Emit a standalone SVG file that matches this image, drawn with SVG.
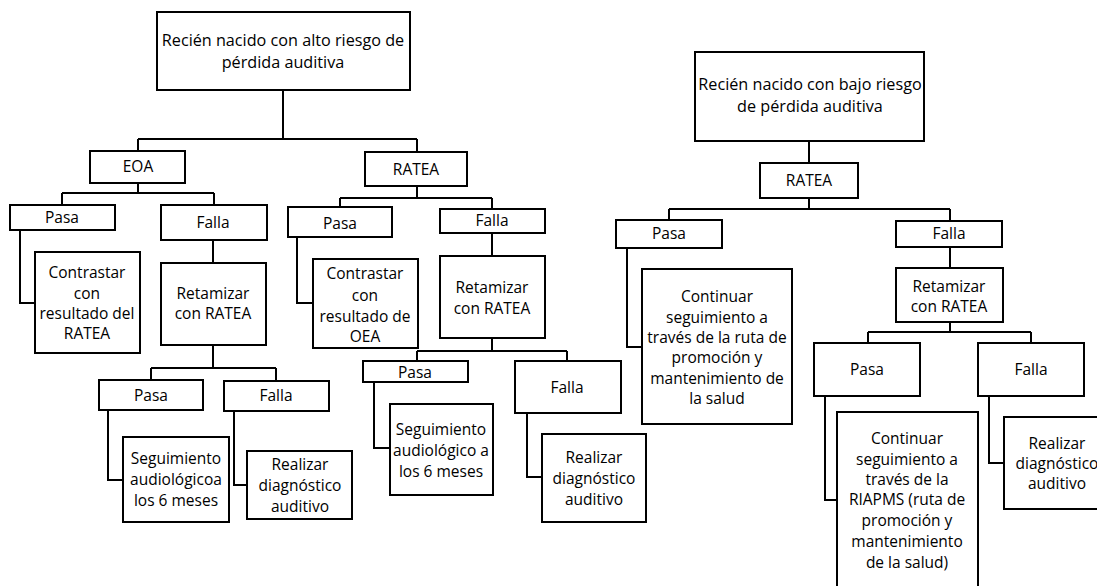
<svg xmlns="http://www.w3.org/2000/svg" width="1097" height="586" viewBox="0 0 1097 586">
<style>
.b{fill:#fff;stroke:#000;stroke-width:2}
.c{fill:none;stroke:#000;stroke-width:2}
text{font-family:"Open Sans","Liberation Sans",sans-serif;font-size:15.5px;fill:#000;text-anchor:middle}
.big{font-size:16.2px}
</style>
<rect width="1097" height="586" fill="#fff"/>
<g id="connectors">
<path class="c" d="M283,90V139M138,139H417M138,139V151M417,139V152"/>
<path class="c" d="M138,183V193M62,193H214M62,193V205M214,193V205"/>
<path class="c" d="M20,230V303H35"/>
<path class="c" d="M213,240V263"/>
<path class="c" d="M213,345V368M151,368H276M151,368V380M276,368V381"/>
<path class="c" d="M108,410V480H123"/>
<path class="c" d="M234,411V485H247"/>
<path class="c" d="M417,186V198M340,198H492M340,198V207M492,198V209"/>
<path class="c" d="M297,237V303H313"/>
<path class="c" d="M492,233V256"/>
<path class="c" d="M492,338V351M417,351H567M417,351V361M567,351V361"/>
<path class="c" d="M374,382V448H390"/>
<path class="c" d="M527,413V477H542"/>
<path class="c" d="M809,141V163M809,198V209M669,209H950M669,209V220M950,209V221"/>
<path class="c" d="M627,248V347H642"/>
<path class="c" d="M950,247V268"/>
<path class="c" d="M950,322V332M868,332H1031M868,332V343M1031,332V343"/>
<path class="c" d="M825,396V500H837"/>
<path class="c" d="M989,396V463H1004"/>
</g>
<g id="root-alto"><rect class="b" x="157" y="12" width="253" height="78"/>
<text class="big" x="283" y="46">Recién nacido con alto riesgo de</text><text class="big" x="283" y="68">pérdida auditiva</text></g>
<g id="eoa"><rect class="b" x="90" y="151" width="95" height="32"/><text x="138" y="172">EOA</text></g>
<g id="ratea-l"><rect class="b" x="365" y="152" width="102" height="34"/><text x="416" y="175">RATEA</text></g>
<g id="eoa-pasa"><rect class="b" x="10" y="205" width="105" height="25"/><text x="62" y="223">Pasa</text></g>
<g id="eoa-falla"><rect class="b" x="161" y="205" width="106" height="35"/><text x="213" y="228">Falla</text></g>
<g id="eoa-contrastar"><rect class="b" x="35" y="252" width="105" height="101"/>
<text x="87" y="278">Contrastar</text><text x="87" y="299">con</text><text x="87" y="319">resultado del</text><text x="87" y="339">RATEA</text></g>
<g id="eoa-retamizar"><rect class="b" x="161" y="263" width="105" height="82"/>
<text x="213" y="299">Retamizar</text><text x="213" y="319">con RATEA</text></g>
<g id="eoa-pasa2"><rect class="b" x="99" y="380" width="104" height="30"/><text x="151" y="401">Pasa</text></g>
<g id="eoa-falla2"><rect class="b" x="224" y="381" width="105" height="30"/><text x="276" y="401">Falla</text></g>
<g id="eoa-seguimiento"><rect class="b" x="123" y="437" width="106" height="85"/>
<text x="176" y="464">Seguimiento</text><text x="176" y="485">audiológicoa</text><text x="176" y="506">los 6 meses</text></g>
<g id="eoa-realizar"><rect class="b" x="247" y="451" width="105" height="68"/>
<text x="300" y="470">Realizar</text><text x="300" y="491">diagnóstico</text><text x="300" y="512">auditivo</text></g>
<g id="ratea-pasa"><rect class="b" x="288" y="207" width="104" height="30"/><text x="340" y="229">Pasa</text></g>
<g id="ratea-falla"><rect class="b" x="440" y="209" width="105" height="24"/><text x="492" y="226">Falla</text></g>
<g id="ratea-contrastar"><rect class="b" x="313" y="259" width="105" height="89"/>
<text x="365" y="279">Contrastar</text><text x="365" y="301">con</text><text x="365" y="322">resultado de</text><text x="365" y="342">OEA</text></g>
<g id="ratea-retamizar"><rect class="b" x="440" y="256" width="105" height="82"/>
<text x="492" y="293">Retamizar</text><text x="492" y="314">con RATEA</text></g>
<g id="ratea-pasa2"><rect class="b" x="363" y="361" width="105" height="21"/><text x="415" y="378">Pasa</text></g>
<g id="ratea-falla2"><rect class="b" x="515" y="361" width="106" height="52"/><text x="567" y="393">Falla</text></g>
<g id="ratea-seguimiento"><rect class="b" x="390" y="404" width="103" height="91"/>
<text x="441" y="435">Seguimiento</text><text x="441" y="456">audiológico a</text><text x="441" y="477">los 6 meses</text></g>
<g id="ratea-realizar"><rect class="b" x="542" y="434" width="104" height="88"/>
<text x="594" y="463">Realizar</text><text x="594" y="484">diagnóstico</text><text x="594" y="505">auditivo</text></g>
<g id="root-bajo"><rect class="b" x="695" y="52" width="229" height="89"/>
<text class="big" x="810" y="90">Recién nacido con bajo riesgo</text><text class="big" x="810" y="112">de pérdida auditiva</text></g>
<g id="ratea-r"><rect class="b" x="760" y="163" width="98" height="35"/><text x="809" y="186">RATEA</text></g>
<g id="r-pasa"><rect class="b" x="616" y="220" width="106" height="28"/><text x="669" y="239">Pasa</text></g>
<g id="r-falla"><rect class="b" x="896" y="221" width="106" height="26"/><text x="949" y="239">Falla</text></g>
<g id="r-continuar"><rect class="b" x="642" y="269" width="150" height="155"/>
<text x="717" y="302">Continuar</text><text x="717" y="323">seguimiento a</text><text x="717" y="343">través de la ruta de</text><text x="717" y="363">promoción y</text><text x="717" y="384">mantenimiento de</text><text x="717" y="404">la salud</text></g>
<g id="r-retamizar"><rect class="b" x="896" y="268" width="107" height="54"/>
<text x="949" y="292">Retamizar</text><text x="949" y="312">con RATEA</text></g>
<g id="r-pasa2"><rect class="b" x="814" y="343" width="106" height="53"/><text x="867" y="375">Pasa</text></g>
<g id="r-falla2"><rect class="b" x="978" y="343" width="106" height="53"/><text x="1031" y="375">Falla</text></g>
<g id="r-continuar2"><rect class="b" x="837" y="412" width="141" height="190"/>
<text x="907" y="444">Continuar</text><text x="907" y="465">seguimiento a</text><text x="907" y="485">través de la</text><text x="907" y="505">RIAPMS (ruta de</text><text x="907" y="526">promoción y</text><text x="907" y="547">mantenimiento</text><text x="907" y="568">de la salud)</text></g>
<g id="r-realizar"><rect class="b" x="1004" y="417" width="106" height="92"/>
<text x="1057" y="449">Realizar</text><text x="1057" y="469">diagnóstico</text><text x="1057" y="489">auditivo</text></g>
</svg>
